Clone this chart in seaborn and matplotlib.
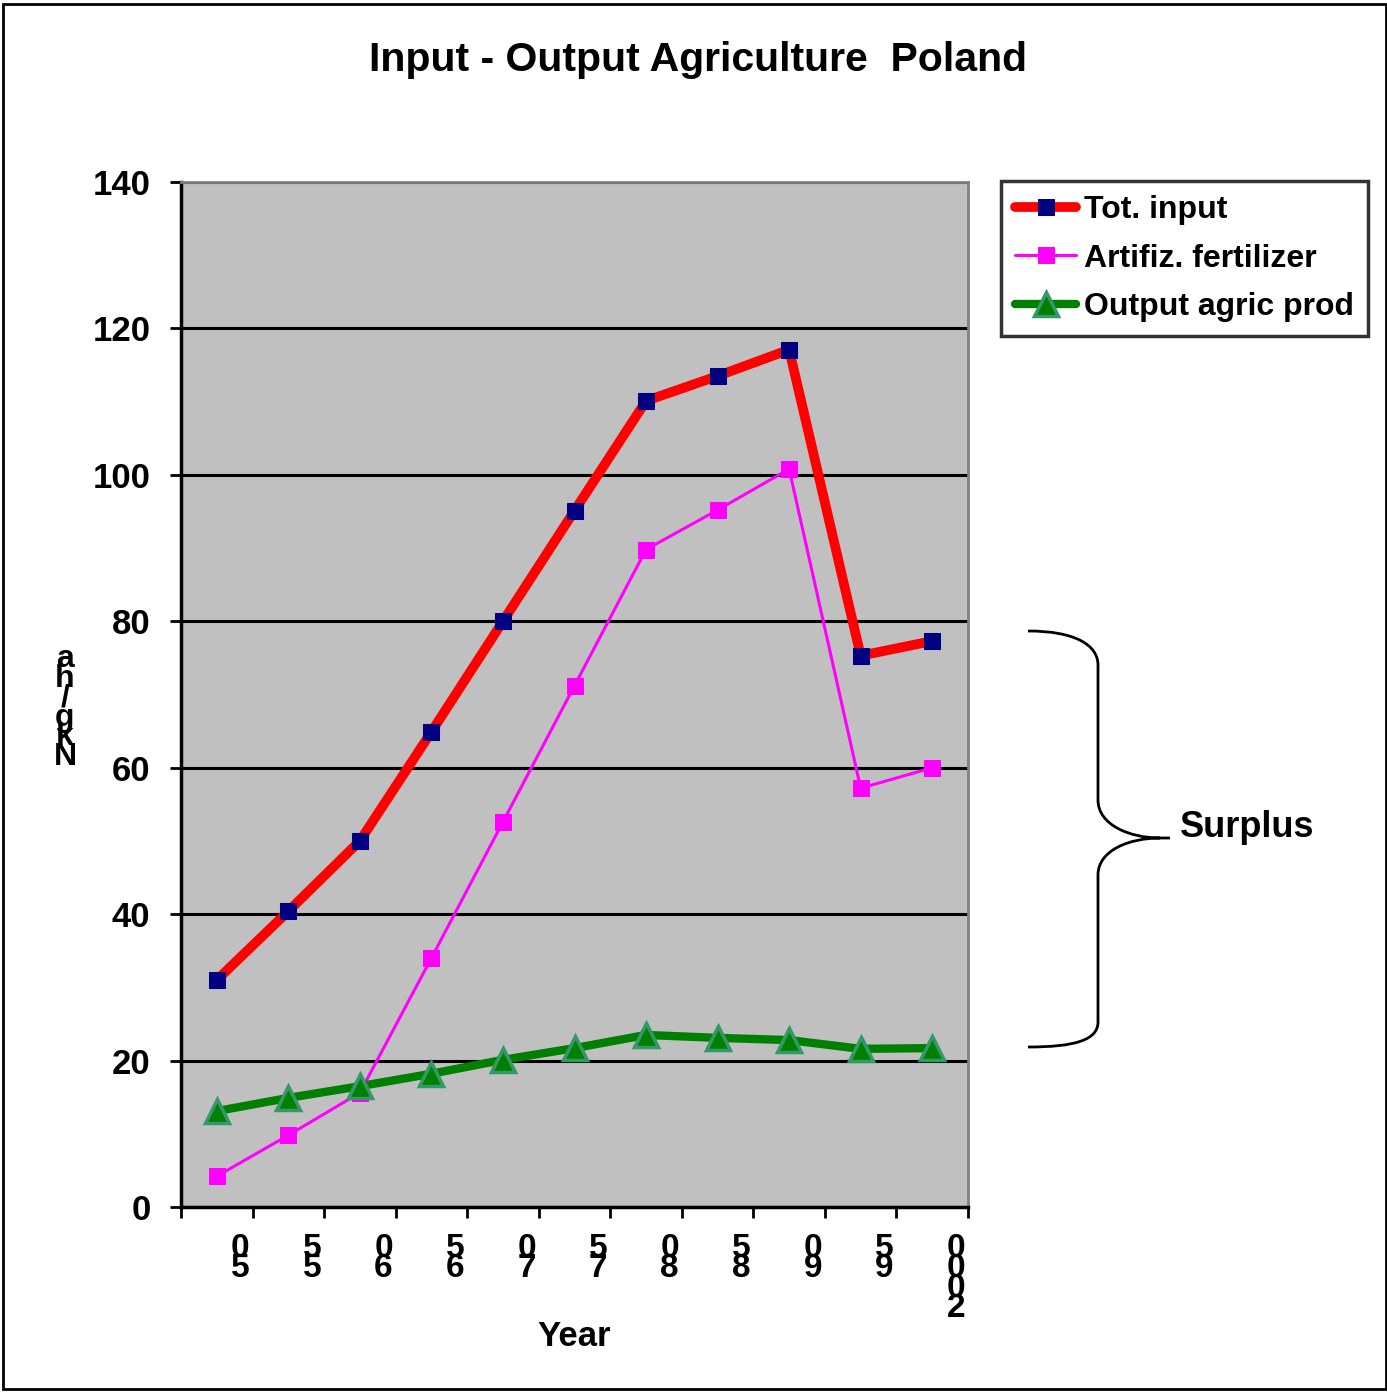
import numpy as np
import matplotlib
matplotlib.use("Agg")
import matplotlib.pyplot as plt
import seaborn as sns
from matplotlib.path import Path
from matplotlib.patches import PathPatch, Rectangle

# data
years = ["1950", "1955", "1960", "1965", "1970", "1975", "1980", "1985", "1990", "1995", "2000"]
tick_texts = ["0\n5", "5\n5", "0\n6", "5\n6", "0\n7", "5\n7", "0\n8", "5\n8", "0\n9", "5\n9", "0\n0\n0\n2"]
tot_input = [31.0, 40.4, 50.0, 64.9, 80.0, 95.1, 110.1, 113.5, 117.1, 75.3, 77.3]
fertilizer = [4.2, 9.8, 15.6, 34.0, 52.6, 71.2, 89.8, 95.2, 100.8, 57.2, 60.0]
output_agric = [13.1, 14.9, 16.5, 18.2, 20.1, 21.7, 23.5, 23.1, 22.8, 21.6, 21.7]

sns.set_theme(style="white")
plt.rcParams['font.family'] = ['Liberation Sans', 'DejaVu Sans']
plt.rcParams['font.weight'] = 'bold'
plt.rcParams['text.color'] = 'black'
plt.rcParams['axes.labelcolor'] = 'black'
plt.rcParams['xtick.color'] = 'black'
plt.rcParams['ytick.color'] = 'black'

W, H = 1387, 1392
fig = plt.figure(figsize=(W / 100, H / 100), dpi=100)
ax = fig.add_axes([181 / W, 1 - 1207 / H, (968 - 181) / W, (1207 - 182) / H])
ax.set_facecolor("#C0C0C0")

idx = np.arange(len(years))

# Linien
sns.lineplot(x=idx, y=tot_input, ax=ax, color="red", linewidth=7, marker="s",
             markersize=12, markerfacecolor="#000080", markeredgecolor="#000080",
             label="Tot. input", zorder=3)
sns.lineplot(x=idx, y=fertilizer, ax=ax, color="#FF00FF", linewidth=2.2, marker="s",
             markersize=12, markerfacecolor="#FF00FF", markeredgecolor="#FF00FF",
             label="Artifiz. fertilizer", zorder=4)
sns.lineplot(x=idx, y=output_agric, ax=ax, color="#008000", linewidth=6, marker="^",
             markersize=17, markerfacecolor="#008000", markeredgecolor="#339966",
             markeredgewidth=2.5, label="Output agric prod", zorder=5)

ax.set_xlim(-0.5, len(years) - 0.5)
ax.set_ylim(0, 140)
ax.set_yticks(np.arange(0, 141, 20))
ax.set_xticks(np.arange(-0.5, len(years), 1.0))
ax.set_xticklabels([])
ax.tick_params(axis="y", direction="out", length=8, width=2, labelsize=25, pad=14,
               left=True, color="black")
ax.tick_params(axis="x", direction="out", length=8, width=2, bottom=True, color="black")
for lbl in ax.get_yticklabels():
    lbl.set_fontweight("bold")

ax.grid(axis="y", color="black", linewidth=2.2)
ax.set_axisbelow(True)
for side in ["left", "bottom"]:
    ax.spines[side].set_color("black")
    ax.spines[side].set_linewidth(2.5)
for side in ["top", "right"]:
    ax.spines[side].set_color("#808080")
    ax.spines[side].set_linewidth(2)

# gestapelte Jahreszahlen
for i, t in enumerate(tick_texts):
    ax.text(i + 0.33, -0.025, t, transform=ax.get_xaxis_transform(), ha="center",
            va="top", fontsize=24, fontweight="bold", linespacing=0.55, clip_on=False)

ax.set_xlabel("Year", fontsize=25, fontweight="bold", labelpad=70)
ax.set_ylabel("")
fig.text(65 / W, 1 - 708 / H, "a\nh\n/\ng\nk\nN", ha="center", va="center",
         fontsize=23, fontweight="bold", linespacing=0.55)

fig.text(698 / W, 1 - 60 / H, "Input - Output Agriculture  Poland", ha="center",
         va="center", fontsize=29.5, fontweight="bold")

leg = ax.legend(loc="upper left", bbox_to_anchor=(1001 / W, 1 - 181 / H),
                bbox_transform=fig.transFigure, fontsize=23, frameon=True,
                fancybox=False, edgecolor="black", handlelength=1.9,
                handletextpad=0.25, labelspacing=0.57, borderpad=0.45,
                borderaxespad=0)
leg.get_frame().set_linewidth(2.5)
for t in leg.get_texts():
    t.set_fontweight("bold")

# Klammer "Surplus"
def fp(x, y):
    return (x / W, 1 - y / H)

verts = [fp(1028, 631), fp(1075, 631), fp(1098, 645), fp(1098, 665),
         fp(1098, 800),
         fp(1098, 825), fp(1130, 838), fp(1160, 838),
         fp(1170, 838),
         fp(1160, 838),
         fp(1130, 838), fp(1098, 850), fp(1098, 875),
         fp(1098, 1022),
         fp(1098, 1040), fp(1075, 1047), fp(1028, 1047)]
codes = [Path.MOVETO, Path.CURVE4, Path.CURVE4, Path.CURVE4,
         Path.LINETO,
         Path.CURVE4, Path.CURVE4, Path.CURVE4,
         Path.LINETO,
         Path.MOVETO,
         Path.CURVE4, Path.CURVE4, Path.CURVE4,
         Path.LINETO,
         Path.CURVE4, Path.CURVE4, Path.CURVE4]
fig.patches.append(PathPatch(Path(verts, codes), facecolor="none", edgecolor="black",
                             linewidth=2, transform=fig.transFigure))
fig.text(1180 / W, 1 - 827 / H, "Surplus", ha="left", va="center",
         fontsize=26, fontweight="bold")

fig.patches.append(Rectangle((3 / W, 1 - 1389 / H), 1383 / W, 1385 / H,
                             transform=fig.transFigure, fill=False,
                             edgecolor="black", linewidth=2))

fig.savefig("out.png", dpi=100)
